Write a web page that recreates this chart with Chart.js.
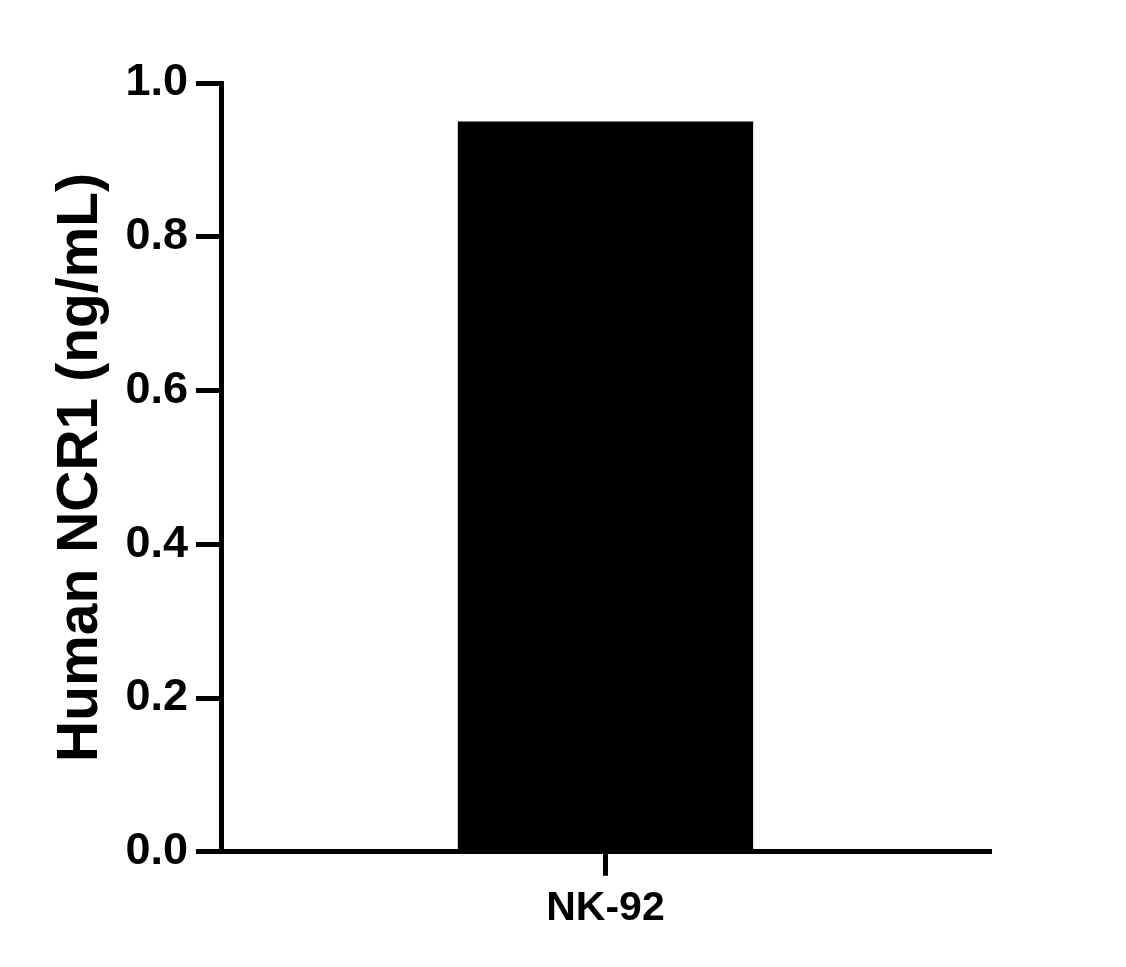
<!DOCTYPE html>
<html>
<head>
<meta charset="utf-8">
<script src="https://cdn.jsdelivr.net/npm/chart.js@4"></script>
<style>
  html, body { margin: 0; padding: 0; background: #fff; }
</style>
</head>
<body>
<canvas id="chart" width="1126" height="967"></canvas>
<script>
var categories = ['NK-92'];
var values = [0.95];
var yTickLabels = ['0.0', '0.2', '0.4', '0.6', '0.8', '1.0'];
var yTitle = 'Human NCR1 (ng/mL)';

var fontFamily = '"Liberation Sans", Arial, sans-serif';

var chart = new Chart('chart', {
  type: 'bar',
  data: {
    labels: categories,
    datasets: [
      {
        data: values,
        backgroundColor: '#000',
        borderWidth: 0,
        categoryPercentage: 1,
        barPercentage: 0.385
      }
    ]
  },
  options: {
    responsive: false,
    animation: false,
    devicePixelRatio: 1,
    layout: {
      padding: { top: 83, right: 137, bottom: 26, left: 0 }
    },
    plugins: {
      legend: { display: false },
      tooltip: { enabled: false }
    },
    scales: {
      x: {
        grid: {
          offset: false,
          drawOnChartArea: false,
          drawTicks: true,
          tickLength: 24,
          lineWidth: 5,
          color: '#000'
        },
        border: { display: true, width: 5, color: '#000' },
        ticks: {
          color: '#000',
          padding: 8,
          font: { family: fontFamily, size: 41, weight: 'bold' }
        }
      },
      y: {
        min: 0,
        max: 1,
        grid: {
          drawOnChartArea: false,
          drawTicks: true,
          tickLength: 26,
          lineWidth: 5,
          color: '#000'
        },
        border: { display: true, width: 5, color: '#000' },
        ticks: {
          stepSize: 0.2,
          color: '#000',
          padding: 8,
          font: { family: fontFamily, size: 45, weight: 'bold' },
          callback: function (v, i) {
            return yTickLabels[i];
          }
        },
        title: {
          display: true,
          text: yTitle,
          color: '#000',
          padding: { top: 47, bottom: 2 },
          font: { family: fontFamily, size: 57, weight: 'bold' }
        }
      }
    }
  }
});
</script>
</body>
</html>
